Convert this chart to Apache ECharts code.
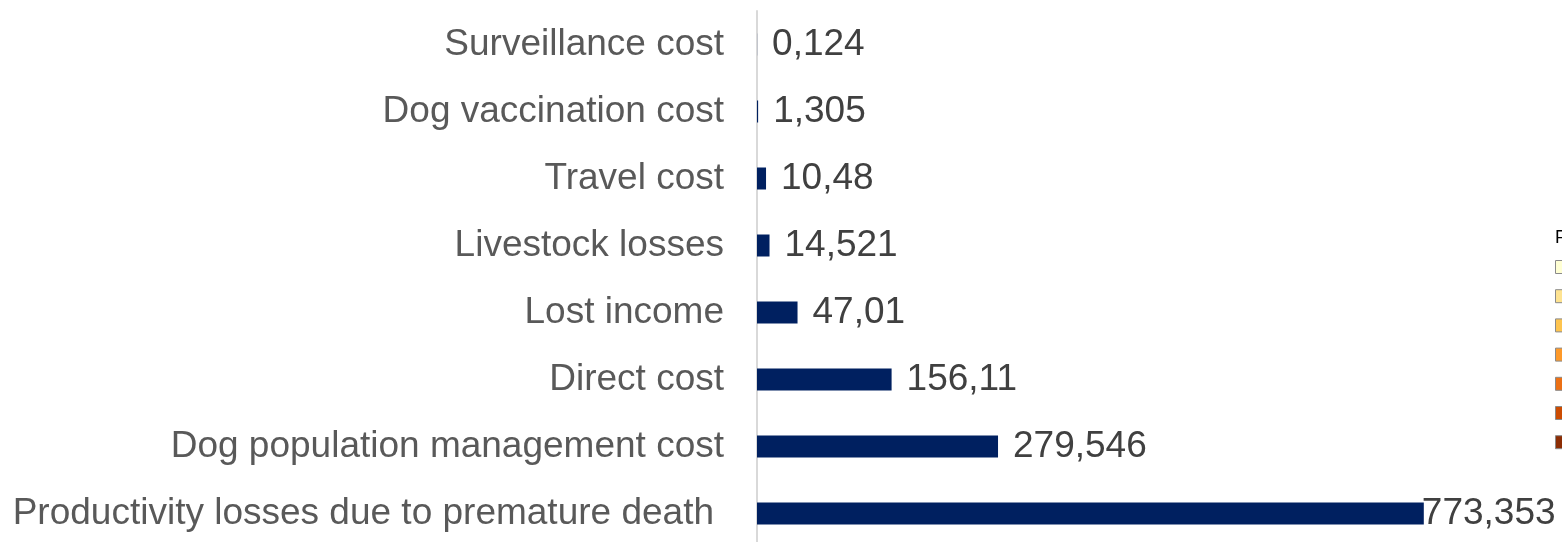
<!DOCTYPE html>
<html>
<head>
<meta charset="utf-8">
<script src="https://cdn.jsdelivr.net/npm/echarts@6/dist/echarts.min.js"></script>
<style>
  html, body { margin: 0; padding: 0; background: #fff; }
  #chart { width: 1562px; height: 542px; }
</style>
</head>
<body>
<div id="chart"></div>
<script>
  // cost categories, top to bottom
  var categories = [
    'Surveillance cost',
    'Dog vaccination cost',
    'Travel cost',
    'Livestock losses',
    'Lost income',
    'Direct cost',
    'Dog population management cost',
    'Productivity losses due to premature death'
  ];
  var costValues = [0.124, 1.305, 10.48, 14.521, 47.01, 156.11, 279.546, 773.353];

  // stray legend swatches cut off at the right edge of the picture
  var swatchColors = ['#ffffd4', '#fee391', '#fec44f', '#fe9929', '#ec7014', '#cc4c02', '#8c2d04'];

  var myChart = echarts.init(document.getElementById('chart'));

  var barData = costValues.map(function (v, i) {
    var item = { value: v };
    if (i === costValues.length - 1) {
      // last label gets pushed back onto the bar in the original
      item.label = { distance: 0, offset: [-2, 0] };
    }
    return item;
  });

  var graphics = [
    { type: 'text', left: 1555, top: 229,
      style: { text: 'F', fontSize: 18, fill: '#000', fontFamily: 'Liberation Sans' } }
  ];
  swatchColors.forEach(function (c, i) {
    graphics.push({
      type: 'rect',
      shape: { x: 1555.5, y: 260.5 + i * 29.2, width: 12, height: 13 },
      style: { fill: c, stroke: '#8a8a8a', lineWidth: 1 }
    });
  });

  var option = {
    animation: false,
    grid: {
      left: 757,
      top: 11,
      width: 776,
      height: 536,
      outerBoundsMode: 'none',
      containLabel: false
    },
    xAxis: {
      type: 'value',
      min: 0,
      max: 900,
      show: false
    },
    yAxis: {
      type: 'category',
      inverse: true,
      data: categories,
      axisLine: { show: true, lineStyle: { color: '#d9d9d9', width: 2 } },
      axisTick: { show: false },
      axisLabel: {
        margin: 33,
        color: '#595959',
        fontSize: 37,
        fontFamily: 'Liberation Sans',
        formatter: function (v, i) {
          return i === categories.length - 1 ? '{p|' + v + '}' : v;
        },
        rich: {
          p: { color: '#595959', fontSize: 37, fontFamily: 'Liberation Sans', padding: [0, 10, 0, 0] }
        }
      }
    },
    series: [{
      type: 'bar',
      data: barData,
      barWidth: 22,
      itemStyle: { color: '#002060' },
      label: {
        show: true,
        position: 'right',
        distance: 15,
        color: '#404040',
        fontSize: 37,
        fontFamily: 'Liberation Sans',
        formatter: function (p) {
          return String(p.value).replace('.', ',');
        }
      }
    }],
    graphic: graphics
  };

  myChart.setOption(option);
</script>
</body>
</html>
